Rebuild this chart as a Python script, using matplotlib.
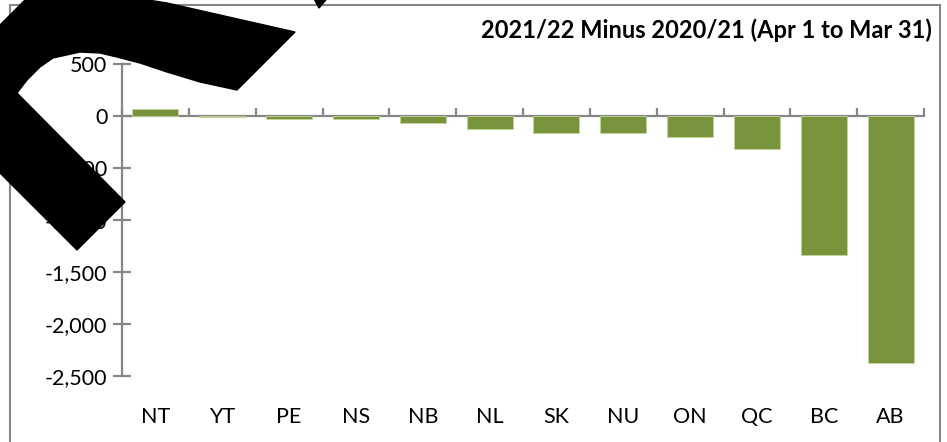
import numpy as np
import matplotlib
matplotlib.use("Agg")
import matplotlib.pyplot as plt
from matplotlib.patches import Polygon, Rectangle
from matplotlib.ticker import FuncFormatter, FixedLocator, NullFormatter

provinces = ["NT", "YT", "PE", "NS", "NB", "NL", "SK", "NU", "ON", "QC", "BC", "AB"]
change = [65, -5, -30, -25, -67, -125, -160, -163, -205, -317, -1337, -2378]
y_ticks = [500, 0, -500, -1000, -1500, -2000, -2500]
title = "2021/22 Minus 2020/21 (Apr 1 to Mar 31)"

W, H = 947, 442
GREY = "#868686"
BAR = "#77933C"

plt.rcParams["font.family"] = ["Lato", "DejaVu Sans"]

fig = plt.figure(figsize=(W / 100, H / 100), dpi=100)
ax = fig.add_axes([122 / W, 1 - 376 / H, (924 - 122) / W, (376 - 64) / H])

x = np.arange(len(provinces))
ax.bar(x, change, width=0.69, color=BAR, edgecolor="#C3D69B", linewidth=0.6, zorder=2)

ax.set_xlim(-0.5, len(provinces) - 0.5)
ax.set_ylim(-2500, 500)

for s in ["top", "right", "bottom"]:
    ax.spines[s].set_visible(False)
ax.spines["left"].set_color(GREY)
ax.spines["left"].set_linewidth(1.6)

ax.yaxis.set_major_locator(FixedLocator(y_ticks))
ax.yaxis.set_major_formatter(FuncFormatter(lambda v, p: f"{int(v):,}"))
ax.tick_params(axis="y", direction="inout", length=13, width=1.6, color=GREY,
               labelsize=15.5, pad=4)

# category labels sit at the bottom of the plot area
ax.set_xticks(x)
ax.set_xticklabels(provinces)
ax.tick_params(axis="x", length=0, labelsize=15.5, pad=22)

# horizontal axis line at zero with tick marks between categories (pointing up)
sec = ax.secondary_xaxis(2500 / 3000)
for s in ["top", "bottom"]:
    sec.spines[s].set_color(GREY)
    sec.spines[s].set_linewidth(1.6)
sec.set_xticks(np.arange(len(provinces) + 1) - 0.5)
sec.xaxis.set_major_formatter(NullFormatter())
sec.xaxis.set_ticks_position("top")
sec.tick_params(direction="out", length=6, width=1.6, color=GREY,
                labelbottom=False, labeltop=False)

fig.text(932 / W, 1 - 30 / H, title, ha="right", va="center",
         fontsize=17, fontweight="bold")

# chart frame
fig.add_artist(Rectangle((10 / W, -0.05), (940 - 10) / W, 1.05 - 5 / H,
                         transform=fig.transFigure, fill=False,
                         edgecolor=GREY, linewidth=1.5))

# the big black curved arrow drawn over the chart (pixel coords, y down)
shape = [(77, 250), (0, 173), (-40, 133), (-40, 50), (0, 25), (25, 0),
         (60, -8), (110, -6), (167, 3), (295, 32), (237, 90),
         (200, 82), (167, 72), (140, 63), (117, 57), (100, 53), (80, 52),
         (53, 58), (40, 67), (27, 80), (17, 93), (125, 202)]
fig.add_artist(Polygon([(px / W, 1 - py / H) for px, py in shape], closed=True,
                       transform=fig.transFigure, color="black", zorder=10))
tip = [(312, -5), (330, -5), (319, 8)]
fig.add_artist(Polygon([(px / W, 1 - py / H) for px, py in tip], closed=True,
                       transform=fig.transFigure, color="black", zorder=10))

fig.savefig("out.png", dpi=100)
